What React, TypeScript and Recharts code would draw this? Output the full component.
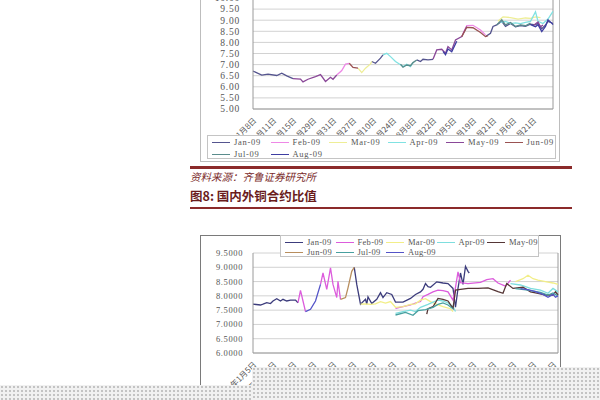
import React from "react";
import { LineChart, Line, XAxis, YAxis, CartesianGrid, ReferenceLine } from "recharts";

type Pt = [number, number | null];

const seriesNames = ["Jan-09", "Feb-09", "Mar-09", "Apr-09", "May-09", "Jun-09", "Jul-09", "Aug-09"];

// upper chart (x in half-weeks, 0..120)
const topYTicks = [5, 5.5, 6, 6.5, 7, 7.5, 8, 8.5, 9, 9.5, 10];
const topXLabels = ["1月8日", "2月11日", "3月15日", "4月29日", "5月31日", "6月27日", "7月10日", "7月24日", "8月8日", "8月22日", "9月5日", "9月19日", "10月21日", "11月6日", "12月21日"];

const topJan: Pt[] = [[0, 6.71], [3.5, 6.53], [6, 6.57], [9.5, 6.51], [11.5, 6.61], [13.5, 6.49], [16, 6.37], [17, null],
  [47.5, 7.14], [49, 7.06], [51, 7.29], [52, 7.44], [53, null],
  [65.5, 7.21], [67, 7.14], [68, 7.24], [70, 7.21], [72, 7.24], [73, null],
  [93, 8.26], [95, 8.41], [96, 8.72], [97.5, 8.79], [99.5, 8.95], [101, 8.72], [103, 8.85], [105, 8.7], [107, 8.76], [109, 8.72], [111, 8.82], [113, 8.79], [114, 8.87], [115.5, 8.62], [117, 8.78], [118, 8.95], [120, 8.85]];
const topFeb: Pt[] = [[33.5, 6.53], [35.5, 6.73], [37, 7.02], [38.5, 7.06], [39, null],
  [84, 8.4], [85.5, 8.76], [88, 8.77], [91, 8.56], [93, 8.34]];
const topMar: Pt[] = [[42, 6.84], [43.5, 6.64], [45, 6.84], [47, 7.03], [47.5, 7.14], [48, null],
  [98, 8.95], [100, 9.15], [103, 9.12], [106, 9.05], [109, 9.1], [111, 9.08], [113, 9.15], [115, 9.12]];
const topApr: Pt[] = [[52, 7.44], [53.5, 7.51], [55, 7.36], [57, 7.14], [59, 6.99], [60, 6.91], [61.5, 7.02], [63, 6.91], [64, 7.09], [65, null],
  [99, 8.9], [101, 8.95], [103, 8.85], [105, 8.88], [107, 8.85], [109, 8.9], [111, 8.95], [113, 9.38], [114, 8.95], [116, 8.85], [118, 9.05], [120, 9.4]];
const topMay: Pt[] = [[16, 6.37], [19, 6.35], [20, 6.22], [22, 6.34], [25, 6.46], [27, 6.55], [29, 6.24], [31, 6.43], [32, 6.34], [33.5, 6.53], [34, null],
  [72, 7.24], [73.5, 7.66], [75.5, 7.69], [77, 7.51], [78, 7.81], [79.5, 7.66], [81, 8.11], [83.5, 8.26], [85.5, 8.72], [86, null],
  [112, 8.75], [114, 8.92], [115, 8.7], [116, 8.78]];
const topJun: Pt[] = [[38.5, 7.06], [40, 6.87], [42, 6.84], [43, null],
  [83.5, 8.26], [85.5, 8.68], [88, 8.66], [91, 8.45], [93, 8.26], [94, 8.3]];
const topJul: Pt[] = [[59, 7.02], [60, 6.88], [61.5, 6.98], [63, 6.95], [64, 7.09], [65.5, 7.21], [66, null],
  [97.5, 8.79], [99.5, 9.02], [101, 8.79], [103, 8.9], [105, 8.72], [107, 8.79], [109, 8.75], [111, 8.87]];
const topAug: Pt[] = [[76, 7.6], [77, 7.45], [78, 7.7], [79.5, 7.58], [81.5, 8.05], [82, null],
  [111, 8.8], [113, 8.7], [114, 8.8], [115.5, 8.49], [117, 8.72], [118, 9.02], [119.5, 8.87], [120, 8.8]];

// lower chart: 国内外铜合约比值 (x in half-weeks, 0..122)
const botYTicks = [6, 6.5, 7, 7.5, 8, 8.5, 9, 9.5];
const botXLabels = ["09年1月5日", "09年1月19日", "09年2月2日", "09年2月16日", "09年3月2日", "09年3月16日", "09年3月30日", "09年4月13日", "09年4月27日", "09年5月11日", "09年5月25日", "09年6月8日", "09年6月22日", "09年7月6日", "09年7月20日", "09年8月3日"];

const botJan: Pt[] = [[0, 7.71], [3, 7.68], [4, 7.71], [5.5, 7.76], [7, 7.73], [8, 7.82], [9.5, 7.9], [11, 7.82], [12, 7.88], [13.5, 7.82], [15, 7.85], [17, 7.85], [18, 7.76], [18.5, null],
  [40.5, 9.0], [41.5, 8.4], [43, 7.71], [45, 7.88], [45.5, 7.71], [46, 7.96], [47.5, 7.73], [49.5, 7.88], [51, 8.11], [52, 7.94], [53.5, 8.11], [55.5, 8.05], [57, 7.78], [60, 7.78], [63, 7.91], [65, 8.05], [67, 8.14], [68, 8.23], [69, 8.43], [70, 8.32], [71, 8.3], [73.5, 8.49], [76, 8.45], [78, 8.43], [80, 8.26], [81, 7.6], [82, 8.26], [83, 8.8], [84, 8.4], [85, 9.03], [86, 8.86], [86.5, 8.8]];
const botFeb: Pt[] = [[18, 7.76], [19, 8.19], [20, 7.82], [21, 7.45], [21.5, null],
  [27, 8.4], [28, 8.8], [29.5, 8.23], [31, 8.98], [32, 8.4], [33.5, 7.94], [34, 8.51], [35, 7.88], [35.5, null],
  [57, 7.56], [60, 7.62], [63, 7.68], [65, 7.75], [67, 7.8], [68, 7.97], [70, 8.05], [72, 8.14], [74, 8.2], [76, 8.18], [78, 8.14], [80, 7.85], [81, 8.3], [82, 8.84], [83, 8.46], [86, 8.43], [91, 8.47], [93.5, 8.57], [96, 8.6], [98, 8.45], [101, 8.34], [103, 8.55]];
const botMar: Pt[] = [[43, 7.71], [45, 7.72], [47, 7.7], [49, 7.72], [51, 7.8], [53, 7.75], [55, 7.8], [57, 7.6], [60, 7.62], [63, 7.7], [65, 7.72], [67, 7.85], [69, 7.9], [71, 7.8], [73.5, 7.7], [76, 7.62], [79, 7.55], [80, 7.45], [81, null],
  [105, 8.5], [108, 8.6], [110, 8.72], [112, 8.6], [114, 8.55], [117, 8.5], [120, 8.45], [122, 8.4]];
const botApr: Pt[] = [[57, 7.39], [60, 7.45], [63, 7.5], [65, 7.45], [67, 7.6], [70, 7.7], [72, 7.78], [74, 7.85], [76, 7.82], [78, 7.75], [80, 7.62], [81, 7.45], [82, null],
  [103, 8.43], [107, 8.38], [111, 8.26], [115, 8.2], [118, 8.09], [120, 8.26], [122, 8.14]];
const botMay: Pt[] = [[69.5, 7.36], [70, 7.55], [72, 7.62], [74, 7.91], [76, 7.88], [78, 7.82], [80, 7.56], [81, 8.2], [83, 8.23], [86, 8.26], [90, 8.26], [94, 8.28], [98, 8.15], [100, 8.09], [101.5, 8.43], [104, 8.26], [108, 8.3], [111, 8.14], [114, 8.09], [117, 8.03], [120, 8.03], [121, 8.14], [122, 8.03]];
const botJun: Pt[] = [[35, 7.88], [37, 7.94], [38, 8.28], [39.5, 8.86], [40.5, 9.0]];
const botJul: Pt[] = [[57, 7.33], [61, 7.42], [64, 7.32], [66, 7.48], [69, 7.52], [72, 7.6], [74, 7.7], [76, 7.75], [78, 7.68], [80, 7.55], [81, null],
  [105, 8.25], [110, 8.2], [115, 8.12], [118, 8.03], [120, 8.1], [122, 8.0]];
const botAug: Pt[] = [[21, 7.45], [23, 7.53], [25, 7.82], [27, 8.4], [27.5, null],
  [107, 8.25], [110, 8.22], [113, 8.15], [116, 8.05], [118, 7.95], [120, 8.05], [121, 7.95], [122, 8.0]];

const topColors = ["#55558f", "#ee88e6", "#eeee96", "#80e2e2", "#8a4898", "#9a5252", "#5a8c8c", "#3e3ea2"];
const botColors = ["#3c3c7c", "#dc5cdc", "#f2ee88", "#7edede", "#553636", "#b88e5e", "#48a0a0", "#5454c8"];

const topSeries = [topJan, topFeb, topMar, topApr, topMay, topJun, topJul, topAug];
const botSeries = [botJan, botFeb, botMar, botApr, botMay, botJun, botJul, botAug];

const toRows = (pts: Pt[]) => pts.map(([u, v]) => ({ u, v }));

const serif = "'Liberation Serif', 'DejaVu Serif', serif";
const cjk = "'Noto Sans CJK SC', sans-serif";

const Legend = ({ colors, perRow, left, top, width, height, step, rowGap, spacing }: any) => (
  <div style={{ position: "absolute", left, top, width, height, border: "1px solid #c4c4c4", background: "#fff", boxSizing: "border-box" }}>
    {seriesNames.map((name, i) => (
      <div key={name} style={{ position: "absolute", left: 4 + (i % perRow) * step, top: 2 + Math.floor(i / perRow) * rowGap, display: "flex", alignItems: "center", height: 9, whiteSpace: "nowrap" }}>
        <div style={{ width: 18, height: 1.6, background: colors[i] }} />
        <span style={{ marginLeft: 4, fontFamily: serif, fontSize: 8.5, letterSpacing: spacing, color: "#555", lineHeight: "9px" }}>{name}</span>
      </div>
    ))}
  </div>
);

const dotted = {
  position: "absolute" as const,
  backgroundColor: "#f1f1f1",
  backgroundImage: "radial-gradient(#c2c2c2 0.7px, transparent 1.1px)",
  backgroundSize: "4px 4px",
};

const App = () => {
  return (
    <div style={{ position: "fixed", left: 0, top: 0, width: 600, height: 400, background: "#fff", overflow: "hidden" }}>
      {/* upper chart frame */}
      <div style={{ position: "absolute", left: 200, top: -2, width: 360, height: 164, border: "1px solid #bdbdbd", boxSizing: "border-box" }} />
      <div style={{ position: "absolute", left: 200, top: -25 }}>
        <LineChart width={360} height={188} margin={{ top: 23, right: 7, bottom: 0, left: 0 }}>
          <CartesianGrid vertical={false} stroke="#d2d2d2" />
          <XAxis
            type="number"
            dataKey="u"
            domain={[0, 120]}
            ticks={topXLabels.map((_, i) => i * 8)}
            tickFormatter={(u) => topXLabels[u / 8]}
            interval={0}
            height={54}
            stroke="#9a9a9a"
            tickLine={false}
            tick={{ angle: -45, textAnchor: "end", fontSize: 8, fill: "#555", fontFamily: cjk }}
          />
          <YAxis
            type="number"
            domain={[5, 10]}
            ticks={topYTicks}
            interval={0}
            width={53}
            stroke="#9a9a9a"
            tickLine={false}
            tickMargin={7}
            tickFormatter={(v) => v.toFixed(2)}
            tick={{ fontSize: 9.5, fill: "#555", fontFamily: serif, letterSpacing: 0.8 }}
          />
          <ReferenceLine x={120} stroke="#9a9a9a" />
          {topSeries.map((pts, i) => (
            <Line key={i} data={toRows(pts)} dataKey="v" stroke={topColors[i]} strokeWidth={1.3} dot={false} isAnimationActive={false} connectNulls={false} />
          ))}
        </LineChart>
      </div>
      <Legend colors={topColors} perRow={6} left={207} top={135} width={349} height={24} step={58.5} rowGap={12} spacing={0.7} />

      {/* captions */}
      <div style={{ position: "absolute", left: 190, top: 166, width: 382, height: 2.5, background: "#8b2a2a" }} />
      <div style={{ position: "absolute", left: 190, top: 171, fontFamily: cjk, fontSize: 10.5, lineHeight: "12px", color: "#7a2a2a", fontStyle: "italic" }}>
        资料来源：齐鲁证券研究所
      </div>
      <div style={{ position: "absolute", left: 190, top: 189, fontFamily: cjk, fontSize: 12.5, lineHeight: "14px", fontWeight: 700, color: "#6a1c1c" }}>
        图8:&nbsp;国内外铜合约比值
      </div>
      <div style={{ position: "absolute", left: 190, top: 207, width: 382, height: 2, background: "#8b2a2a" }} />

      {/* lower chart frame */}
      <div style={{ position: "absolute", left: 200, top: 235, width: 361, height: 200, border: "1px solid #7a7a7a", boxSizing: "border-box" }} />
      <div style={{ position: "absolute", left: 200, top: 235 }}>
        <LineChart width={360} height={200} margin={{ top: 18, right: 2, bottom: 0, left: 0 }}>
          <CartesianGrid vertical={false} stroke="#d2d2d2" />
          <XAxis
            type="number"
            dataKey="u"
            domain={[0, 122]}
            ticks={botXLabels.map((_, i) => i * 8)}
            tickFormatter={(u) => botXLabels[u / 8]}
            interval={0}
            height={82}
            stroke="#9a9a9a"
            tickLine={false}
            tick={{ angle: -45, textAnchor: "end", fontSize: 8, fill: "#555", fontFamily: cjk }}
          />
          <YAxis
            type="number"
            domain={[6, 9.5]}
            ticks={botYTicks}
            interval={0}
            width={53}
            stroke="#9a9a9a"
            tickLine={false}
            tickMargin={4}
            tickFormatter={(v) => v.toFixed(4)}
            tick={{ fontSize: 8.5, fill: "#555", fontFamily: serif, letterSpacing: 0.6 }}
          />
          <ReferenceLine x={122} stroke="#9a9a9a" />
          {botSeries.map((pts, i) => (
            <Line key={i} data={toRows(pts)} dataKey="v" stroke={botColors[i]} strokeWidth={1.3} dot={false} isAnimationActive={false} connectNulls={false} />
          ))}
        </LineChart>
      </div>
      <Legend colors={botColors} perRow={5} left={280} top={235} width={259} height={22} step={50.5} rowGap={10} spacing={0.3} />

      {/* scan noise band at the bottom */}
      <div style={{ ...dotted, left: 252, top: 367, width: 348, height: 33 }} />
      <div style={{ ...dotted, left: 0, top: 385, width: 252, height: 15 }} />
    </div>
  );
};

export default App;
